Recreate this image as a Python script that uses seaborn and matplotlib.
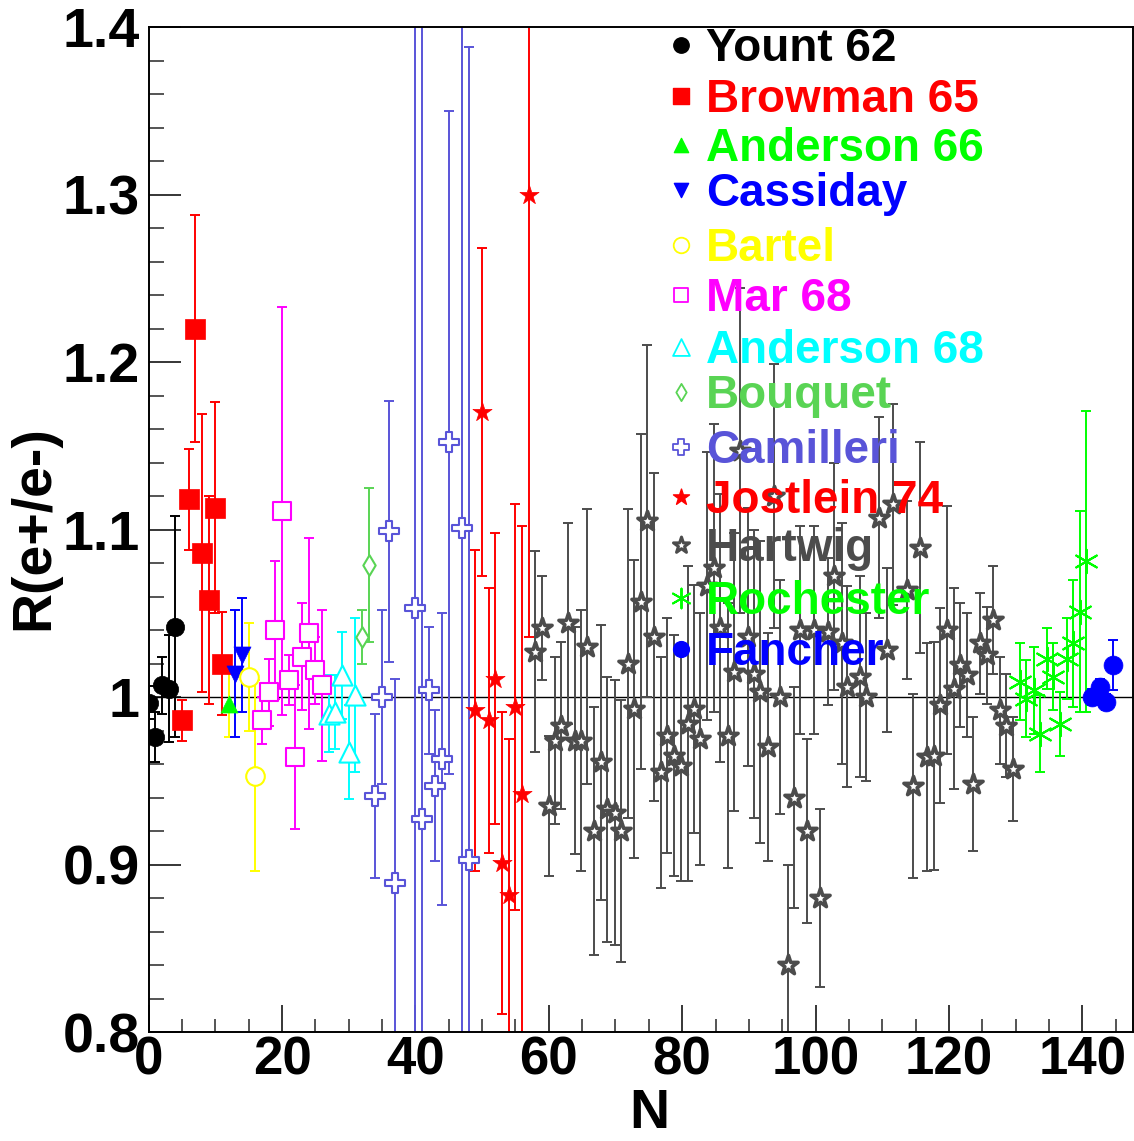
import matplotlib
matplotlib.use('Agg')

import matplotlib.pyplot as plt
from matplotlib.ticker import MultipleLocator, FuncFormatter
import pandas as pd
import seaborn as sns


# --- data: N, R(e+/e-), symmetric error ---
yount_n = [0, 1, 2, 3, 4]
yount_r = [0.9966, 0.976, 1.007, 1.005, 1.042]
yount_err = [0.010, 0.015, 0.017, 0.032, 0.066]

browman_n = [5, 6, 7, 8, 9, 10, 11]
browman_r = [0.986, 1.118, 1.220, 1.086, 1.058, 1.113, 1.020]
browman_err = [0.012, 0.030, 0.068, 0.083, 0.062, 0.063, 0.031]

anderson66_n = [12]
anderson66_r = [0.996]
anderson66_err = [0.020]

cassiday_n = [13, 14]
cassiday_r = [1.014, 1.025]
cassiday_err = [0.038, 0.034]

bartel_n = [15, 16]
bartel_r = [1.012, 0.953]
bartel_err = [0.032, 0.057]

mar68_n = [17, 18, 19, 20, 21, 22, 23, 24, 25, 26]
mar68_r = [0.986, 1.003, 1.040, 1.111, 1.010, 0.964, 1.024, 1.038, 1.016, 1.007]
mar68_err = [0.014, 0.020, 0.041, 0.122, 0.015, 0.043, 0.032, 0.057, 0.020, 0.045]

anderson68_n = [27, 28, 29, 30, 31]
anderson68_r = [0.990, 0.991, 1.013, 0.967, 1.001]
anderson68_err = [0.023, 0.022, 0.026, 0.028, 0.046]

bouquet_n = [32, 33]
bouquet_r = [1.036, 1.079]
bouquet_err = [0.016, 0.046]

camilleri_n = [34, 35, 36, 37, 40, 41, 42, 43, 44, 45, 47, 48]
camilleri_r = [0.941, 1.000, 1.099, 0.889, 1.053, 0.927, 1.004, 0.947, 0.963, 1.152, 1.101, 0.903]
camilleri_err = [0.049, 0.052, 0.078, 0.122, 0.600, 0.600, 0.038, 0.045, 0.087, 0.198, 0.600, 0.485]

jostlein_n = [49, 50, 51, 52, 53, 54, 55, 56, 57]
jostlein_r = [0.992, 1.170, 0.986, 1.011, 0.901, 0.882, 0.994, 0.942, 1.300]
jostlein_err = [0.096, 0.098, 0.079, 0.087, 0.090, 0.093, 0.121, 0.160, 0.264]

hartwig_n = [58.0, 59.0, 60.0, 61.0, 61.9, 62.9, 63.9, 64.9, 65.8, 66.8,
             67.8, 68.8, 69.9, 70.8, 71.9, 72.8, 73.8, 74.8, 75.8, 76.8,
             77.8, 78.8, 79.8, 80.8, 81.8, 82.7, 83.7, 84.7, 85.7, 86.9,
             87.8, 88.7, 89.9, 90.8, 91.7, 92.8, 93.7, 94.7, 95.8, 96.7,
             97.7, 98.7, 99.7, 100.7, 101.9, 102.7, 103.9, 104.7, 106.6, 107.6,
             109.5, 110.7, 111.6, 113.7, 114.6, 115.6, 116.7, 117.7, 118.7, 119.7,
             120.7, 121.7, 122.7, 123.6, 124.7, 125.7, 126.6, 127.6, 128.6, 129.6]
hartwig_r = [1.027, 1.041, 0.935, 0.974, 0.983, 1.044, 0.974, 0.974, 1.030, 0.920,
             0.961, 0.933, 0.931, 0.920, 1.020, 0.993, 1.057, 1.105, 1.036, 0.955,
             0.977, 0.965, 0.959, 0.984, 0.993, 0.975, 1.066, 1.077, 1.041, 0.977,
             1.015, 1.147, 1.036, 1.014, 1.003, 0.970, 1.120, 1.000, 0.840, 0.940,
             1.040, 0.920, 1.040, 0.880, 1.039, 1.072, 1.032, 1.006, 1.012, 1.000,
             1.107, 1.028, 1.115, 1.064, 0.947, 1.089, 0.964, 0.965, 0.995, 1.040,
             1.005, 1.019, 1.013, 0.948, 1.032, 1.025, 1.046, 0.992, 0.983, 0.957]
hartwig_err = [0.060, 0.031, 0.042, 0.050, 0.050, 0.060, 0.068, 0.078, 0.082, 0.074,
               0.082, 0.079, 0.079, 0.078, 0.092, 0.089, 0.100, 0.105, 0.098, 0.069,
               0.070, 0.072, 0.069, 0.094, 0.074, 0.075, 0.080, 0.086, 0.080, 0.079,
               0.083, 0.097, 0.077, 0.086, 0.090, 0.068, 0.079, 0.070, 0.060, 0.066,
               0.062, 0.055, 0.062, 0.053, 0.044, 0.068, 0.072, 0.060, 0.060, 0.050,
               0.060, 0.049, 0.060, 0.053, 0.055, 0.063, 0.068, 0.068, 0.058, 0.074,
               0.060, 0.037, 0.037, 0.040, 0.030, 0.029, 0.032, 0.032, 0.031, 0.031]

rochester_n = [130.6, 131.6, 132.7, 133.6, 134.7, 135.6, 136.6, 137.7, 138.6, 139.6, 140.5]
rochester_r = [1.009, 0.999, 1.004, 0.978, 1.023, 1.012, 0.984, 1.023, 1.032, 1.051, 1.081]
rochester_err = [0.023, 0.023, 0.026, 0.023, 0.018, 0.020, 0.019, 0.024, 0.038, 0.060, 0.090]

fancher_n = [141.5, 142.6, 143.6, 144.6]
fancher_r = [1.000, 1.006, 0.997, 1.019]
fancher_err = [0.005, 0.005, 0.005, 0.015]

ASTERISK = (6, 2, 0)

# name, n, r, err, colour, marker, size, open marker, bar colour
series = [
    ('Yount 62', yount_n, yount_r, yount_err, 'black', 'o', 175, False, None),
    ('Browman 65', browman_n, browman_r, browman_err, '#ff0000', 's', 200, False, None),
    ('Anderson 66', anderson66_n, anderson66_r, anderson66_err, '#00ff00', '^', 150, False, '#ffff00'),
    ('Cassiday', cassiday_n, cassiday_r, cassiday_err, '#0000ff', 'v', 150, False, None),
    ('Bartel', bartel_n, bartel_r, bartel_err, '#ffff00', 'o', 180, True, None),
    ('Mar 68', mar68_n, mar68_r, mar68_err, '#ff00ff', 's', 150, True, None),
    ('Anderson 68', anderson68_n, anderson68_r, anderson68_err, '#00ffff', '^', 210, True, None),
    ('Bouquet', bouquet_n, bouquet_r, bouquet_err, '#59d454', 'd', 110, True, None),
    ('Camilleri', camilleri_n, camilleri_r, camilleri_err, '#5954d8', 'P', 190, True, None),
    ('Jostlein 74', jostlein_n, jostlein_r, jostlein_err, '#ff0000', '*', 210, False, None),
    ('Hartwig', hartwig_n, hartwig_r, hartwig_err, '#4c4c4c', '*', 210, True, None),
    ('Rochester', rochester_n, rochester_r, rochester_err, '#00ff00', ASTERISK, 290, False, None),
    ('Fancher', fancher_n, fancher_r, fancher_err, '#0000ff', 'o', 185, False, None),
]

# legend rows: pixel y of each entry centre (image coords, 1141 tall)
legend_y_px = [45, 96, 145, 190, 245, 295, 347, 392, 447, 497, 545, 598, 649]

sns.set_theme(style='ticks')
plt.rcParams['font.family'] = ['Liberation Sans', 'DejaVu Sans']
plt.rcParams['font.weight'] = 'bold'

fig = plt.figure(figsize=(11.34, 11.41), dpi=100)
ax = fig.add_axes([0.1311, 0.0955, 0.868, 0.8808])

ax.axhline(1.0, color='black', linewidth=1.0, zorder=1)

for name, n, r, err, color, marker, size, hollow, bar_color in series:
    df = pd.DataFrame({'N': n, 'R': r, 'err': err})
    ax.errorbar(df['N'], df['R'], yerr=df['err'], fmt='none',
                ecolor=bar_color or color, elinewidth=1.4, capsize=3.6,
                capthick=1.4, zorder=2)
    kw = dict(x='N', y='R', data=df, marker=marker, s=size, ax=ax,
              legend=False, zorder=3)
    if marker == ASTERISK:
        sns.scatterplot(color=color, linewidth=1.5, **kw)
    elif hollow:
        lw = 2.6 if name == 'Hartwig' else 1.5
        sns.scatterplot(color=color, facecolor='white', edgecolor=color,
                        linewidth=lw, **kw)
    else:
        sns.scatterplot(color=color, edgecolor=color, linewidth=0.5, **kw)

# legend drawn as text rows inside the axes, like the original
for (name, n, r, err, color, marker, size, hollow, bar_color), ypx in zip(series, legend_y_px):
    yf = (1032 - ypx) / 1005
    mx = (681 - 148.7) / 984.3
    tx = (706 - 148.7) / 984.3
    lsize = size * 0.7
    if marker == ASTERISK:
        ax.scatter([mx], [yf], transform=ax.transAxes, marker=marker, s=lsize,
                   color=color, linewidth=1.4, zorder=5)
    elif hollow:
        ax.scatter([mx], [yf], transform=ax.transAxes, marker=marker, s=lsize,
                   facecolor='white', edgecolor=color,
                   linewidth=2.2 if name == 'Hartwig' else 1.3, zorder=5)
    else:
        ax.scatter([mx], [yf], transform=ax.transAxes, marker=marker, s=lsize,
                   color=color, zorder=5)
    ax.text(tx, yf - 16.4 / 1005, name, transform=ax.transAxes, color=color,
            fontsize=33, fontweight='bold', ha='left', va='baseline', zorder=6)

ax.set_xlim(0, 147.6)
ax.set_ylim(0.8, 1.4)
ax.xaxis.set_major_locator(MultipleLocator(20))
ax.xaxis.set_minor_locator(MultipleLocator(5))
ax.yaxis.set_major_locator(MultipleLocator(0.1))
ax.yaxis.set_minor_locator(MultipleLocator(0.02))
ax.yaxis.set_major_formatter(FuncFormatter(lambda v, p: f'{v:g}'))
ax.xaxis.set_major_formatter(FuncFormatter(lambda v, p: f'{v:g}'))

ax.tick_params(axis='y', which='major', direction='in', length=23, width=1.3,
               labelsize=40, pad=6.5, right=False)
ax.tick_params(axis='y', which='minor', direction='in', length=11, width=1.1, right=False)
ax.tick_params(axis='x', which='major', direction='in', length=19.5, width=1.3,
               labelsize=38, pad=2.5, top=False)
ax.tick_params(axis='x', which='minor', direction='in', length=9.5, width=1.1, top=False)
for lab in ax.get_xticklabels() + ax.get_yticklabels():
    lab.set_fontweight('bold')
    lab.set_color('black')

for side in ['left', 'bottom', 'top', 'right']:
    ax.spines[side].set_visible(True)
    ax.spines[side].set_color('black')
    ax.spines[side].set_linewidth(1.4)

ax.set_xlabel('N', fontsize=40, fontweight='bold', color='black')
ax.set_ylabel('R(e+/e-)', fontsize=40, fontweight='bold', color='black')
ax.xaxis.set_label_coords(0.5083, -0.0557)
ax.yaxis.set_label_coords(-0.0901, 0.5015)

fig.savefig('out.png', dpi=100)
plt.close(fig)
